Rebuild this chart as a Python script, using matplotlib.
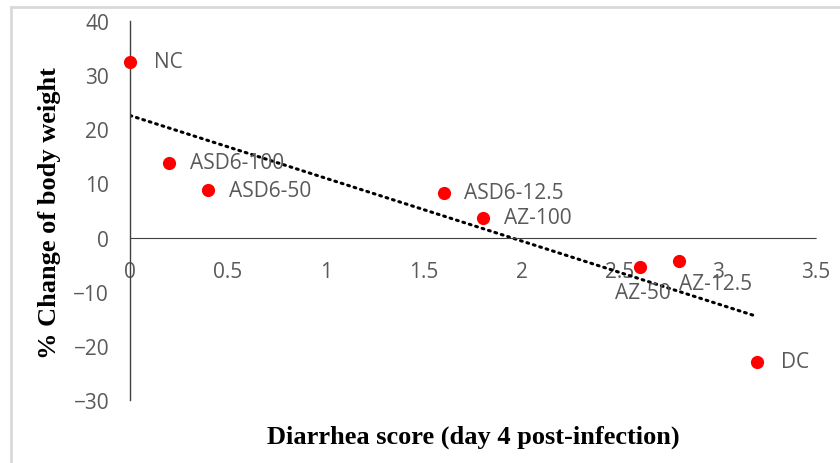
import numpy as np
import matplotlib
matplotlib.use("Agg")
import matplotlib.pyplot as plt
from matplotlib.lines import Line2D

# ── data ──
groups = ["NC", "ASD6-100", "ASD6-50", "ASD6-12.5", "AZ-100", "AZ-50", "AZ-12.5", "DC"]
diarrhea_score = [0.0, 0.2, 0.4, 1.6, 1.8, 2.6, 2.8, 3.2]
weight_change = [32.5, 13.8, 8.7, 8.3, 3.7, -5.5, -4.4, -22.9]
x_ticks = [0, 0.5, 1, 1.5, 2, 2.5, 3, 3.5]
y_ticks = [-30, -20, -10, 0, 10, 20, 30, 40]

# label offsets in points (Excel-style manual placement)
label_offsets = {
    "NC": (17, 0, "left"),
    "ASD6-100": (15, 0, "left"),
    "ASD6-50": (15, 0, "left"),
    "ASD6-12.5": (15, 0, "left"),
    "AZ-100": (15, 0, "left"),
    "AZ-50": (2, -18, "center"),
    "AZ-12.5": (0, -16, "left"),
    "DC": (17, 0, "left"),
}

GRAY = "#595959"
SERIF = "Liberation Serif"
SANS = "Open Sans"

fig = plt.figure(figsize=(8.4, 4.64), dpi=100)
ax = fig.add_axes([130 / 840, 1 - 401 / 464, 686 / 840, 379 / 464])

ax.set_xlim(0, 3.5)
ax.set_ylim(-30, 40)
ax.set_xticks(x_ticks)
ax.set_xticklabels([f"{t:g}" for t in x_ticks])
ax.set_yticks(y_ticks)

for s in ("top", "right"):
    ax.spines[s].set_visible(False)
ax.spines["left"].set_position(("data", 0))
ax.spines["left"].set_color("#404040")
ax.spines["left"].set_linewidth(1.0)
ax.spines["bottom"].set_position(("data", 0))
ax.spines["bottom"].set_color("#404040")
ax.spines["bottom"].set_linewidth(0.8)
ax.spines["bottom"].set_linestyle((0, (2, 1)))

ax.tick_params(axis="both", length=0, labelsize=15, labelcolor=GRAY)
ax.tick_params(axis="x", pad=17)
ax.tick_params(axis="y", pad=15)
for lab in ax.get_xticklabels() + ax.get_yticklabels():
    lab.set_family(SANS)

# linear trendline
slope, intercept = np.polyfit(diarrhea_score, weight_change, 1)
xs = np.array([min(diarrhea_score), max(diarrhea_score)])
ax.plot(xs, slope * xs + intercept, color="black", lw=2.2,
        linestyle=(0, (0.6, 1.6)), dash_capstyle="round", zorder=2)

ax.plot(diarrhea_score, weight_change, "o", color="#ff0000",
        markersize=9.5, markeredgewidth=0, zorder=3, clip_on=False)

for g, x, y in zip(groups, diarrhea_score, weight_change):
    dx, dy, ha = label_offsets[g]
    ax.annotate(g, (x, y), textcoords="offset points", xytext=(dx, dy),
                ha=ha, va="center", fontsize=15, color=GRAY, family=SANS,
                zorder=4)

fig.text(473 / 840, 1 - 437 / 464, "Diarrhea score (day 4 post-infection)",
         ha="center", va="center", fontsize=19, fontweight="bold", family=SERIF)
fig.text(50 / 840, 1 - 213 / 464, "% Change of body weight", rotation=90,
         ha="center", va="center", fontsize=19, fontweight="bold", family=SERIF)

# chart border (top and left edges visible in the crop)
fig.add_artist(Line2D([11 / 840, 11 / 840], [0, 1 - 8 / 464],
                      transform=fig.transFigure, color="#d9d9d9", lw=2))
fig.add_artist(Line2D([11 / 840, 1], [1 - 8 / 464, 1 - 8 / 464],
                      transform=fig.transFigure, color="#d9d9d9", lw=2))

fig.savefig("out.png", dpi=100)
